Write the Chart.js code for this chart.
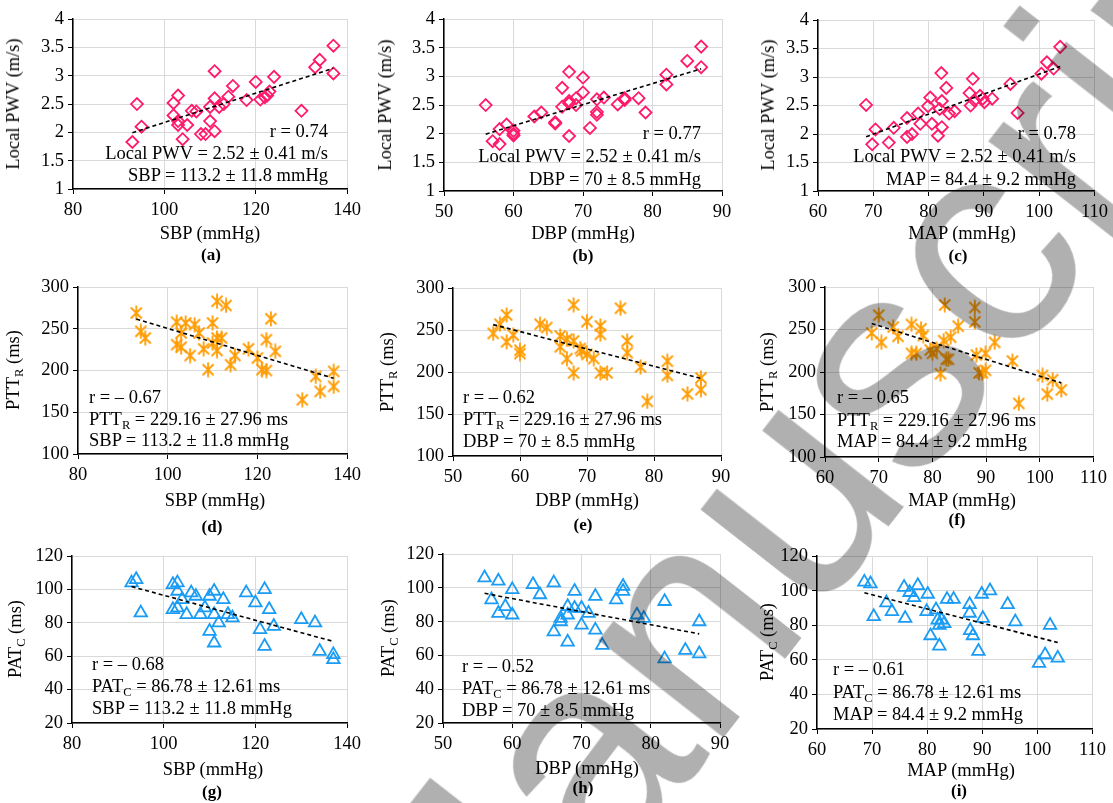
<!DOCTYPE html>
<html lang="en">
<head>
<meta charset="UTF-8">
<title>Local PWV, PTT_R and PAT_C vs blood pressure</title>
<script src="https://cdn.jsdelivr.net/npm/chart.js@4.4.1/dist/chart.umd.min.js"></script>
<style>
    body {
        margin: 0;
        width: 1113px;
        height: 803px;
        overflow: hidden;
        background: #fff;
        position: relative;
        font-family: 'Times New Roman', 'Liberation Serif', serif;
    }
    canvas { position: absolute; }
    .txt {
        position: absolute;
        font-size: 18.5px;
        line-height: 22px;
        color: #000;
        white-space: nowrap;
    }
    .lbl { font-weight: bold; font-size: 17px; }
    sub { font-size: 12.5px; line-height: 0; vertical-align: -4px; }
    /* watermark over the whole figure */
    #wm {
        position: absolute;
        font-family: 'Liberation Sans', Arial, sans-serif;
        font-size: 300px;
        line-height: 300px;
        color: #b0b0b0;
        white-space: nowrap;
        transform-origin: 0 0;
        transform: rotate(-52deg);
        mix-blend-mode: multiply;
        pointer-events: none;
    }
</style>
</head>
<body>

<script>
// --- data ---
// (a) SBP vs local PWV
const sbpA = [93, 94, 95, 102, 102, 103, 103, 103, 104, 105, 106, 107, 108, 109, 110, 110, 111, 111, 111, 112, 113, 114, 115, 118, 120, 121, 122, 122.5, 123, 124, 130, 133, 134, 137, 137];
const pwvA = [1.83, 2.5, 2.1, 2.52, 2.3, 2.65, 2.2, 2.13, 1.88, 2.13, 2.38, 2.37, 1.97, 1.97, 2.45, 2.2, 3.08, 2.6, 2.02, 2.45, 2.5, 2.63, 2.82, 2.57, 2.89, 2.58, 2.62, 2.65, 2.72, 2.98, 2.38, 3.15, 3.28, 3.53, 3.04];
// (b) DBP vs local PWV
const dbpB = [56, 57, 58, 58, 59, 60, 60, 60, 63, 64, 66, 66, 67, 67, 68, 68, 68, 68, 69, 69, 70, 70, 71, 72, 72, 72, 73, 75, 76, 76, 78, 79, 82, 82, 85, 87, 87];
const pwvB = [2.5, 1.87, 2.08, 1.82, 2.16, 2.05, 2.0, 1.97, 2.3, 2.37, 2.2, 2.18, 2.8, 2.47, 2.53, 3.08, 2.57, 1.96, 2.62, 2.5, 2.98, 2.72, 2.1, 2.6, 2.38, 2.33, 2.63, 2.51, 2.59, 2.62, 2.62, 2.37, 3.03, 2.86, 3.27, 3.52, 3.16];
// (c) MAP vs local PWV
const mapC = [68.7, 69.8, 70.4, 72.8, 73.7, 76.1, 76.1, 77, 78.1, 78.5, 79.9, 80.3, 80.6, 81.7, 82, 82.3, 82.4, 82.4, 83.2, 83.7, 84.7, 87.4, 87.6, 88, 88.3, 89.3, 89.8, 90.1, 91.5, 94.8, 96.1, 100.4, 101.4, 102.6, 103.8];
const pwvC = [2.51, 1.82, 2.08, 1.85, 2.11, 2.28, 1.95, 2.0, 2.36, 2.18, 2.49, 2.64, 2.18, 1.97, 2.44, 3.07, 2.58, 2.12, 2.81, 2.36, 2.4, 2.72, 2.5, 2.97, 2.59, 2.67, 2.62, 2.56, 2.62, 2.88, 2.37, 3.06, 3.26, 3.15, 3.53];
// (d) SBP vs PTT_R
const sbpD = [93, 94, 95, 102, 102, 103, 103, 104, 105, 106, 107, 108, 109, 110, 110, 111, 111, 111, 112, 113, 114, 115, 118, 120, 121, 122, 122, 123, 124, 130, 133, 134, 137, 137];
const pttD = [269, 247, 239, 258, 231, 245, 228, 257, 218, 255, 245, 226, 201, 257, 233, 283, 224, 239, 239, 278, 207, 218, 226, 215, 201, 200, 237, 262, 223, 165, 193, 175, 199, 181];
// (e) DBP vs PTT_R
const dbpE = [56, 57, 58, 58, 59, 60, 60, 63, 64, 66, 66, 67, 67, 68, 68, 68, 69, 69.2, 70, 70, 71, 72, 72, 72, 73, 75, 76, 76, 78, 79, 82, 82, 85, 87, 87];
const pttE = [246, 257, 268, 236, 244, 226, 222, 257, 253, 243, 230, 216, 239, 280, 237, 199, 228, 225, 260, 221, 216, 255, 245, 199, 199, 276, 237, 223, 206, 165, 213, 196, 174, 193, 179];
// (f) MAP vs PTT_R
const mapF = [68.7, 70, 70.5, 72.7, 73.6, 76.1, 76.1, 77, 77.9, 78.3, 79.6, 80, 80.8, 81.5, 82.1, 82.3, 82.6, 83, 83.4, 84.8, 87.9, 87.9, 88.2, 88.7, 89.3, 89.9, 89.9, 91.6, 94.9, 96.1, 100.5, 101.4, 102.4, 104];
const pttF = [246, 267, 235, 253, 242, 256, 222, 222, 251, 243, 226, 222, 227, 198, 237, 279, 215, 215, 241, 254, 259, 276, 220, 199, 199, 202, 222, 235, 213, 163, 196, 174, 191, 179];
// (g) SBP vs PAT_C
const sbpG = [93, 94, 95, 102, 102, 103, 103, 103, 104, 105, 106, 107, 108, 109, 110, 110, 111, 111, 111, 112, 113, 114, 115, 118, 120, 121, 122, 122, 123, 124, 130, 133, 134, 137, 137];
const patG = [104, 106, 86, 103, 88, 104, 99, 89, 94, 85, 98, 96, 85, 89, 96, 75, 99, 68, 85, 80, 94, 85, 83, 98, 92, 76, 100, 66, 88, 78, 82, 80, 63, 61, 58];
// (h) DBP vs PAT_C
const dbpH = [56, 57, 58, 58, 59, 60, 60, 63, 64, 66, 66, 67, 67, 68, 68, 68, 69, 69, 70, 70, 71, 72, 72, 73, 75, 76, 76, 78, 79, 82, 82, 85, 87, 87];
const patH = [106, 93, 104, 85, 89, 99, 84, 102, 96, 103, 74, 80, 82, 89, 84, 68, 98, 88, 88, 78, 85, 95, 75, 66, 93, 101, 98, 84, 82, 92, 58, 63, 80, 61];
// (i) MAP vs PAT_C
const mapI = [68.6, 69.7, 70.3, 72.6, 73.6, 75.8, 76, 76.8, 77.6, 78.3, 80.1, 79.9, 80.6, 81.6, 81.9, 82.2, 82.2, 82.6, 83.1, 83.6, 84.8, 87.7, 87.7, 87.8, 88.3, 89.3, 89.9, 90.1, 91.4, 94.6, 96, 100.3, 101.4, 102.3, 103.7];
const patI = [105, 104, 85, 93, 88, 102, 84, 99, 96, 103, 98, 88, 74, 89, 83, 80, 68, 83, 81, 95, 95, 92, 87, 77, 74, 65, 98, 84, 100, 92, 82, 58, 63, 80, 61];

// axis ranges [min, max, step]
const sbpTicks = [80, 140, 20];
const dbpTicks = [50, 90, 10];
const mapTicks = [60, 110, 10];
const pwvTicks = [1, 4, 0.5];
const pttTicks = [100, 300, 50];
const patTicks = [20, 120, 20];

// texts
const xTitles = { sbp: 'SBP (mmHg)', dbp: 'DBP (mmHg)', map: 'MAP (mmHg)' };
const yTitles = { pwv: 'Local PWV (m/s)', ptt: 'PTT<sub>R</sub> (ms)', pat: 'PAT<sub>C</sub> (ms)' };
const rValues = ['r = 0.74', 'r = 0.77', 'r = 0.78', 'r = – 0.67', 'r = – 0.62', 'r = – 0.65', 'r = – 0.68', 'r = – 0.52', 'r = – 0.61'];
const yStats = {
    pwv: 'Local PWV = 2.52 ± 0.41 m/s',
    ptt: 'PTT<sub>R</sub> = 229.16 ± 27.96 ms',
    pat: 'PAT<sub>C</sub> = 86.78 ± 12.61 ms'
};
const xStats = { sbp: 'SBP = 113.2 ± 11.8 mmHg', dbp: 'DBP = 70 ± 8.5 mmHg', map: 'MAP = 84.4 ± 9.2 mmHg' };

// --- colours / markers ---
const pink = '#FF1A6C';
const orange = '#FF9C00';
const blue = '#1A9CF5';
const FONT = "'Times New Roman', 'Liberation Serif', serif";

// asterisk marker (x plus vertical bar) as a small canvas
function makeAsterisk(color) {
    const c = document.createElement('canvas');
    c.width = 16; c.height = 16;
    const g = c.getContext('2d');
    g.strokeStyle = color;
    g.lineWidth = 1.8;
    g.beginPath();
    g.moveTo(2.5, 2.5); g.lineTo(13.5, 13.5);
    g.moveTo(13.5, 2.5); g.lineTo(2.5, 13.5);
    g.moveTo(8, 0.5); g.lineTo(8, 15.5);
    g.stroke();
    return c;
}
const asterisk = makeAsterisk(orange);

// panel layout: plot box [left, right, top, bottom] in page pixels
const panels = [
    { x: sbpA, y: pwvA, xk: 'sbp', yk: 'pwv', xt: sbpTicks, yt: pwvTicks, box: [73, 348, 18, 189], xTitle: [210, 233], lab: [211, 255], yTitleX: 13, stat: ['right', 328, [130.5, 152.5, 175]] },
    { x: dbpB, y: pwvB, xk: 'dbp', yk: 'pwv', xt: dbpTicks, yt: pwvTicks, box: [444, 722, 18, 191], xTitle: [583, 233], lab: [583, 256], yTitleX: 385, stat: ['right', 701, [133, 155.5, 179]] },
    { x: mapC, y: pwvC, xk: 'map', yk: 'pwv', xt: mapTicks, yt: pwvTicks, box: [818, 1095, 19, 191], xTitle: [962, 233], lab: [958, 256], yTitleX: 768, stat: ['right', 1076, [133, 155.5, 179]] },
    { x: sbpD, y: pttD, xk: 'sbp', yk: 'ptt', xt: sbpTicks, yt: pttTicks, box: [78, 348, 286, 454], xTitle: [215, 500], lab: [212, 527], yTitleX: 13, stat: ['left', 89, [397, 418.5, 440]] },
    { x: dbpE, y: pttE, xk: 'dbp', yk: 'ptt', xt: dbpTicks, yt: pttTicks, box: [453, 721, 287, 456], xTitle: [587, 500], lab: [583, 525], yTitleX: 387, stat: ['left', 463, [397, 418.5, 441]] },
    { x: mapF, y: pttF, xk: 'map', yk: 'ptt', xt: mapTicks, yt: pttTicks, box: [825, 1094, 286, 457], xTitle: [962, 500], lab: [957, 520], yTitleX: 767, stat: ['left', 837, [397, 419.5, 441]] },
    { x: sbpG, y: patG, xk: 'sbp', yk: 'pat', xt: sbpTicks, yt: patTicks, box: [72, 348, 555, 723], xTitle: [213, 769], lab: [212, 792], yTitleX: 15, stat: ['left', 92, [664, 686, 708]] },
    { x: dbpH, y: patH, xk: 'dbp', yk: 'pat', xt: dbpTicks, yt: patTicks, box: [443, 720, 553, 723], xTitle: [587, 768], lab: [583, 788], yTitleX: 388, stat: ['left', 462, [666, 687.5, 710]] },
    { x: mapI, y: patI, xk: 'map', yk: 'pat', xt: mapTicks, yt: patTicks, box: [817, 1093, 555, 729], xTitle: [961, 770], lab: [959, 791], yTitleX: 767, stat: ['left', 833, [669, 691.5, 714]] }
];
const letters = ['(a)', '(b)', '(c)', '(d)', '(e)', '(f)', '(g)', '(h)', '(i)'];

// least squares trend line between the smallest and largest x
function trend(xs, ys) {
    const n = xs.length;
    const mx = xs.reduce((s, v) => s + v, 0) / n;
    const my = ys.reduce((s, v) => s + v, 0) / n;
    let sxy = 0, sxx = 0;
    for (let i = 0; i < n; i++) {
        sxy += (xs[i] - mx) * (ys[i] - my);
        sxx += (xs[i] - mx) * (xs[i] - mx);
    }
    const b = sxy / sxx, a = my - b * mx;
    const x0 = Math.min(...xs), x1 = Math.max(...xs);
    return [{ x: x0, y: a + b * x0 }, { x: x1, y: a + b * x1 }];
}

function addText(html, x, y, align, cls) {
    const d = document.createElement('div');
    d.className = 'txt' + (cls ? ' ' + cls : '');
    d.innerHTML = html;
    d.style.left = x + 'px';
    d.style.top = y + 'px';
    const tx = align === 'center' ? '-50%' : align === 'right' ? '-100%' : '0';
    d.style.transform = 'translate(' + tx + ', -50%)' + (cls === 'rot' ? ' rotate(-90deg)' : '');
    if (cls === 'rot') d.style.transformOrigin = '50% 50%';
    document.body.appendChild(d);
}

const PAD_L = 60, PAD_T = 14, PAD_R = 18, AX_H = 40;
const fmt = v => String(Math.round(v * 100) / 100);

panels.forEach((p, k) => {
    const [L, R, T, B] = p.box;
    const cv = document.createElement('canvas');
    cv.width = R - L + PAD_L + PAD_R;
    cv.height = B - T + PAD_T + AX_H;
    cv.style.left = (L - PAD_L) + 'px';
    cv.style.top = (T - PAD_T) + 'px';
    document.body.appendChild(cv);

    const pts = p.x.map((v, i) => ({ x: v, y: p.y[i] }));
    let marker;
    if (p.yk === 'pwv') marker = { pointStyle: 'rectRot', pointRadius: 6, pointBorderColor: pink };
    else if (p.yk === 'ptt') marker = { pointStyle: asterisk, pointRadius: 7, pointBorderColor: orange };
    else marker = { pointStyle: 'triangle', pointRadius: 7.2, pointBorderColor: blue };

    const tickFont = { family: FONT, size: 18.5 };
    new Chart(cv, {
        type: 'scatter',
        data: {
            datasets: [
                {
                    data: trend(p.x, p.y),
                    showLine: true,
                    borderColor: '#000',
                    borderWidth: 1.6,
                    borderDash: [4, 3],
                    pointRadius: 0
                },
                Object.assign({
                    data: pts,
                    pointBackgroundColor: 'rgba(0,0,0,0)',
                    pointBorderWidth: 1.8
                }, marker)
            ]
        },
        options: {
            responsive: false,
            animation: false,
            events: [],
            layout: { padding: { top: PAD_T, right: PAD_R, left: 0, bottom: 0 } },
            plugins: { legend: { display: false }, tooltip: { enabled: false } },
            scales: {
                x: {
                    type: 'linear', min: p.xt[0], max: p.xt[1],
                    ticks: { stepSize: p.xt[2], color: '#000', font: tickFont, padding: 5, maxRotation: 0, autoSkip: false, callback: fmt },
                    grid: { color: '#d9d9d9', tickColor: '#000', tickLength: 5, lineWidth: 1 },
                    border: { color: '#000', width: 1.5 },
                    afterFit: s => { s.height = AX_H; }
                },
                y: {
                    type: 'linear', min: p.yt[0], max: p.yt[1],
                    ticks: { stepSize: p.yt[2], color: '#000', font: tickFont, padding: 4, autoSkip: false, callback: fmt },
                    grid: { color: '#d9d9d9', tickColor: '#000', tickLength: 5, lineWidth: 1 },
                    border: { color: '#000', width: 1.5 },
                    afterFit: s => { s.width = PAD_L; }
                }
            }
        }
    });

    // titles, stats, panel letter
    addText(xTitles[p.xk], p.xTitle[0], p.xTitle[1], 'center');
    addText(yTitles[p.yk], p.yTitleX, (T + B) / 2, 'center', 'rot');
    const lines = [rValues[k], yStats[p.yk], xStats[p.xk]];
    lines.forEach((t, i) => addText(t, p.stat[1], p.stat[2][i], p.stat[0]));
    addText(letters[k], p.lab[0], p.lab[1], 'center', 'lbl');
});

// watermark
const wm = document.createElement('div');
wm.id = 'wm';
wm.textContent = 'Manuscript';
wm.style.left = '254px';
wm.style.top = '926px';
document.body.appendChild(wm);
</script>

</body>
</html>
